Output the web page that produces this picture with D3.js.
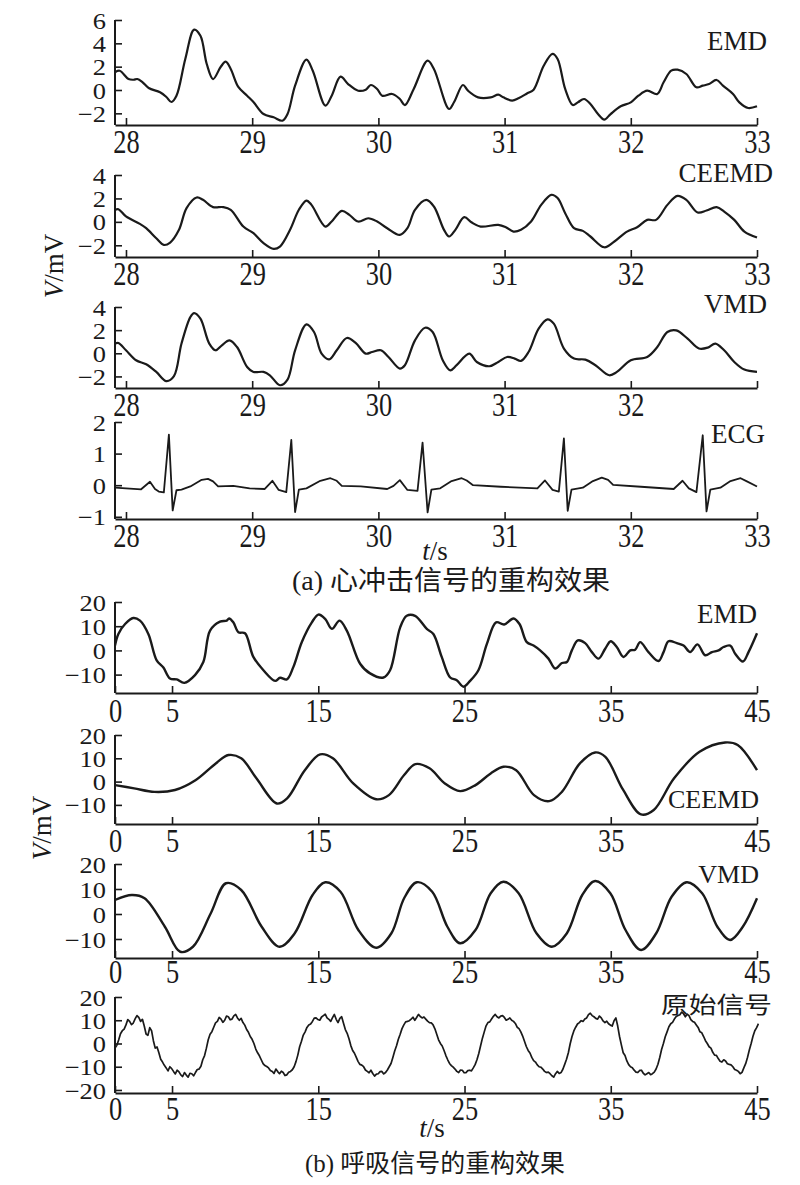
<!DOCTYPE html>
<html><head><meta charset="utf-8">
<script src="https://cdn.jsdelivr.net/npm/d3@7"></script>
<style>
body{margin:0;background:#fff}
svg{display:block}
text{font-family:"Liberation Serif","Times New Roman","Noto Sans CJK SC",serif;fill:#1a1a1a}
</style>
</head><body>
<svg id="c" width="800" height="1185"></svg>
<script>
// ---------------- DATA ----------------
// (a) heart (BCG) reconstruction, time in s, value in mV
const heartXTicks = [28, 29, 30, 31, 32, 33];
const heartXLabels = ["28", "29", "30", "31", "32", "33"];
const heartXLabelsVMD = ["28", "29", "30", "31", "32", ""];
const heartYTicksEMD = [-2, 0, 2, 4, 6];
const heartYTicksCEEMD = [-2, 0, 2, 4];
const heartYTicksVMD = [-2, 0, 2, 4];
const heartYTicksECG = [-1, 0, 1, 2];

const heartEMD = [[27.913,1.52],[27.95,1.65],[28.02,0.94],[28.06,0.88],[28.09,0.94],[28.13,0.68],[28.18,0.17],[28.27,-0.2],[28.32,-0.6],[28.36,-1.03],[28.40,-0.5],[28.47,2.66],[28.54,5.17],[28.59,4.65],[28.64,2.23],[28.69,0.94],[28.75,1.97],[28.79,2.43],[28.83,1.8],[28.89,0.26],[28.96,-0.49],[29.01,-1.03],[29.09,-2.06],[29.17,-2.34],[29.24,-2.63],[29.28,-2.06],[29.34,0.37],[29.43,2.6],[29.48,1.65],[29.58,-1.34],[29.63,-0.49],[29.70,1.14],[29.76,0.51],[29.84,-0.06],[29.90,0.03],[29.94,0.43],[29.99,0.09],[30.03,-0.49],[30.11,-0.34],[30.17,-0.77],[30.21,-1.29],[30.28,0.09],[30.39,2.51],[30.44,1.8],[30.56,-1.63],[30.60,-1.03],[30.67,0.43],[30.71,-0.06],[30.79,-0.63],[30.89,-0.63],[30.95,-0.4],[30.99,-0.63],[31.06,-0.91],[31.11,-0.71],[31.18,-0.28],[31.23,0.03],[31.31,2.08],[31.38,3.09],[31.42,2.66],[31.48,0.09],[31.54,-1.29],[31.58,-1.06],[31.63,-0.77],[31.68,-1.2],[31.74,-2.06],[31.79,-2.54],[31.84,-2.06],[31.92,-1.4],[32.00,-1.06],[32.06,-0.49],[32.13,-0.06],[32.21,-0.34],[32.26,0.66],[32.32,1.66],[32.37,1.74],[32.44,1.37],[32.52,0.23],[32.57,0.37],[32.62,0.51],[32.68,0.86],[32.73,0.37],[32.81,-0.34],[32.86,-1.06],[32.93,-1.54],[33.0,-1.4]];

const heartCEEMD = [[27.913,1.03],[27.94,1.08],[28.0,0.46],[28.11,-0.17],[28.16,-0.54],[28.24,-1.4],[28.30,-1.97],[28.35,-1.77],[28.42,-0.68],[28.48,1.17],[28.56,2.08],[28.61,1.88],[28.69,1.26],[28.77,1.26],[28.83,1.03],[28.93,-0.4],[29.01,-0.97],[29.09,-1.82],[29.17,-2.31],[29.22,-2.11],[29.30,-0.68],[29.37,1.03],[29.43,1.82],[29.47,1.45],[29.58,-0.4],[29.63,0.03],[29.71,0.94],[29.77,0.6],[29.84,0.03],[29.92,0.31],[29.99,0.03],[30.07,-0.54],[30.17,-1.11],[30.23,-0.54],[30.29,1.03],[30.38,1.88],[30.44,1.31],[30.52,-0.68],[30.56,-1.25],[30.61,-0.68],[30.68,0.4],[30.74,-0.06],[30.81,-0.4],[30.95,-0.26],[31.01,-0.46],[31.07,-0.83],[31.13,-0.68],[31.21,0.03],[31.29,1.45],[31.37,2.31],[31.42,2.03],[31.48,0.74],[31.55,-0.54],[31.62,-0.77],[31.68,-1.25],[31.79,-2.17],[31.87,-1.68],[31.97,-0.83],[32.05,-0.46],[32.13,0.17],[32.20,0.17],[32.29,1.45],[32.37,2.22],[32.44,1.88],[32.53,0.8],[32.60,0.97],[32.68,1.26],[32.74,0.88],[32.82,0.17],[32.90,-0.83],[33.0,-1.34]];

const heartVMD = [[27.913,0.84],[27.94,0.89],[28.0,0.26],[28.08,-0.6],[28.16,-0.95],[28.24,-1.61],[28.32,-2.41],[28.38,-1.98],[28.44,0.84],[28.51,3.13],[28.54,3.47],[28.59,2.99],[28.66,0.84],[28.71,0.26],[28.76,0.69],[28.82,1.12],[28.88,0.54],[28.96,-1.18],[29.01,-1.61],[29.09,-1.61],[29.14,-1.9],[29.22,-2.76],[29.28,-2.27],[29.34,0.26],[29.43,2.5],[29.49,1.84],[29.55,-0.03],[29.61,-0.52],[29.67,0.26],[29.75,1.32],[29.82,0.89],[29.90,-0.03],[29.95,0.11],[30.02,0.26],[30.08,-0.32],[30.17,-1.32],[30.21,-1.03],[30.29,1.12],[30.37,2.21],[30.43,1.84],[30.51,-0.6],[30.57,-1.47],[30.62,-1.03],[30.72,-0.03],[30.78,-0.75],[30.88,-1.12],[30.95,-0.75],[31.02,-0.32],[31.08,-0.46],[31.13,-0.66],[31.19,0.11],[31.27,2.13],[31.34,2.93],[31.39,2.56],[31.47,0.41],[31.55,-0.46],[31.64,-0.55],[31.72,-1.03],[31.83,-1.9],[31.89,-1.61],[32.0,-0.6],[32.13,-0.32],[32.21,0.54],[32.29,1.84],[32.36,1.98],[32.45,1.27],[32.54,0.41],[32.61,0.49],[32.67,0.84],[32.74,0.26],[32.82,-0.75],[32.90,-1.41],[33.0,-1.61]];

const heartECG = [[27.913,-0.08],[28.0,-0.1],[28.12,-0.13],[28.19,0.11],[28.23,-0.12],[28.26,-0.2],[28.30,-0.23],[28.34,1.6],[28.37,-0.8],[28.40,-0.16],[28.44,-0.14],[28.51,-0.04],[28.60,0.17],[28.65,0.2],[28.69,0.12],[28.73,-0.04],[28.85,-0.02],[28.98,-0.1],[29.10,-0.12],[29.16,0.14],[29.21,-0.15],[29.27,-0.22],[29.31,1.43],[29.34,-0.85],[29.37,-0.14],[29.43,-0.1],[29.54,0.14],[29.62,0.22],[29.67,0.14],[29.71,-0.02],[29.86,-0.04],[30.07,-0.12],[30.12,-0.02],[30.17,0.16],[30.23,-0.15],[30.31,-0.18],[30.35,1.35],[30.39,-0.86],[30.42,-0.14],[30.49,-0.1],[30.58,0.13],[30.66,0.22],[30.70,0.15],[30.75,0.0],[30.97,-0.05],[31.26,-0.1],[31.32,0.15],[31.38,-0.15],[31.43,-0.2],[31.47,1.48],[31.50,-0.81],[31.53,-0.14],[31.62,-0.08],[31.70,0.13],[31.77,0.24],[31.82,0.17],[31.86,0.01],[32.08,-0.05],[32.34,-0.12],[32.41,0.14],[32.46,-0.1],[32.52,-0.22],[32.57,1.58],[32.60,-0.83],[32.63,-0.14],[32.71,-0.08],[32.79,0.13],[32.87,0.22],[32.92,0.12],[33.0,-0.04]];

// (b) respiration reconstruction
const respXTicks = [1.1, 5, 15, 25, 35, 45];
const respXLabels = ["0", "5", "15", "25", "35", "45"];
const respYTicks = [-10, 0, 10, 20];
const respYTicksRaw = [-20, -10, 0, 10, 20];

const respEMD = [[1.1,2.05],[1.33,6.8],[1.79,10.9],[2.35,13.4],[2.81,12.3],[3.38,6.8],[3.95,-4.1],[4.41,-7.1],[4.86,-11.6],[5.32,-12.0],[5.84,-13.4],[6.57,-10.2],[7.14,-4.8],[7.6,8.2],[8.28,11.9],[8.74,12.3],[8.9,13.2],[9.19,11.6],[9.54,7.5],[9.99,7.1],[10.56,-2.7],[11.25,-8.2],[12.05,-12.6],[12.39,-11.3],[12.85,-12.0],[13.3,-6.8],[13.87,3.4],[14.56,11.6],[15.01,14.8],[15.47,13.0],[15.93,8.9],[16.45,12.3],[16.95,8.2],[17.86,-5.5],[18.54,-9.5],[19.46,-11.2],[19.91,-8.2],[20.6,9.5],[21.05,14.3],[21.62,14.3],[22.42,8.9],[22.87,6.8],[23.44,-2.7],[24.02,-11.2],[24.47,-12.3],[24.93,-15.0],[25.38,-12.6],[25.95,-8.2],[26.53,2.7],[27.16,11.6],[27.71,10.7],[28.35,13.2],[28.76,10.9],[29.26,3.4],[29.72,2.0],[30.17,0.0],[30.74,-3.4],[31.2,-7.5],[31.66,-5.2],[32.0,-4.8],[32.34,0.0],[32.75,4.1],[33.25,3.0],[33.71,-0.7],[34.16,-3.4],[34.62,0.7],[35.0,3.8],[35.41,1.4],[35.87,-2.7],[36.33,0.0],[36.67,0.3],[37.01,3.4],[37.58,-0.7],[38.26,-4.4],[38.61,-0.7],[38.95,3.8],[39.52,3.0],[39.98,2.0],[40.43,-0.7],[40.93,2.5],[41.46,-2.0],[41.92,-0.7],[42.37,0.0],[42.71,1.4],[43.17,2.0],[43.51,-1.4],[44.04,-4.6],[44.42,-0.7],[45.0,7.1]];

const respCEEMD = [[1.1,-1.5],[2.41,-2.9],[3.8,-4.4],[5.2,-3.6],[6.6,0.6],[7.99,7.8],[8.86,11.4],[9.73,10.0],[10.77,1.4],[12.17,-9.4],[12.87,-7.2],[14.08,4.9],[15.13,11.7],[16.0,10.0],[17.39,-0.8],[18.96,-7.6],[19.83,-5.8],[20.87,2.8],[21.64,7.5],[22.61,5.7],[23.66,-0.8],[24.7,-4.1],[25.75,-1.5],[26.79,3.5],[27.66,6.4],[28.53,4.9],[29.75,-5.8],[30.79,-8.4],[31.66,-4.4],[32.89,7.8],[33.93,12.5],[34.63,10.6],[35.85,-3.6],[37.07,-14.1],[37.94,-12.2],[39.33,1.4],[41.07,12.8],[42.82,16.8],[43.68,15.7],[45.0,4.9]];

const respVMD = [[1.1,5.6],[2.25,7.6],[3.12,6.3],[4.51,-5.1],[5.56,-15.1],[6.43,-13.1],[7.65,0.3],[8.69,12.3],[9.73,9.6],[11.13,-5.1],[12.35,-13.1],[13.39,-7.7],[14.61,7.6],[15.48,12.7],[16.52,8.9],[17.74,-6.4],[18.96,-13.5],[20.0,-7.7],[20.87,6.3],[21.74,12.7],[22.79,8.9],[23.83,-5.1],[24.7,-11.7],[25.75,-6.4],[26.79,8.3],[27.66,12.9],[28.7,8.3],[29.92,-7.7],[30.97,-13.1],[32.0,-7.7],[33.05,7.6],[33.93,13.2],[34.97,8.3],[36.01,-6.4],[37.07,-14.4],[38.11,-7.7],[39.16,6.9],[40.2,12.7],[41.25,8.3],[42.29,-5.1],[43.16,-10.4],[44.03,-5.1],[45.0,6.3]];

// raw respiration signal, sampled every 0.125 s starting at t = 1.1
const respRawStart = 1.1;
const respRawStep = 0.125;
const respRaw = [-2,-0.8,1.5,4.2,5.5,6.2,8,10.3,9.5,8.1,8.8,10.6,12,11.2,9.5,10.4,7.5,4.1,3.5,6.8,5.5,1.2,-2,-1.5,-4,-6.8,-8,-9.4,-10.5,-11.8,-10,-10.8,-12,-13.1,-11.5,-12.2,-13.5,-14.2,-12.5,-13.6,-14.5,-12.8,-13,-13.9,-12.5,-11.2,-11,-9.8,-7,-5.2,-2,1.6,4,5.1,7,8.9,9.5,11.2,10.5,9.1,10,11.8,11.5,10.2,10.5,11.9,12.5,11.0,10,10.8,9,7.9,6,4.8,3,1.8,0,-2.4,-4,-5.3,-7,-8.7,-9.5,-9.9,-10.5,-11.6,-12,-12.9,-11,-12.1,-13,-11.9,-12.5,-13.8,-13.5,-12.4,-12,-11.3,-10,-7.8,-5,-1.4,1,3.6,5,6.9,8,8.4,9.5,10.9,11,10.3,10,11.4,12,12.6,11,10.4,9.5,11.1,12.5,10.4,9,10.8,11.5,8.7,6,4.4,2,-0.9,-3,-4.2,-6,-7.8,-9,-9.3,-10,-11.4,-12,-12.6,-11.5,-12.9,-14,-13.2,-13,-12.1,-12,-13.1,-12.5,-11.4,-10,-8.6,-6,-3.2,-1,1.8,4,6.4,8,9.3,9.5,9.8,10.5,11.3,10,11.2,12.5,11.6,11,11.4,10.5,9.6,9,8.9,8,6.3,4,1.6,0,-1.1,-3,-5.2,-7,-8.6,-9.5,-10.2,-11,-12.0,-12.5,-11.4,-11.5,-12.6,-12.5,-11.7,-11.5,-11.8,-10.5,-9.1,-7,-4.3,-1,2.3,5,7.6,9,9.3,10.5,11.7,12.5,11.5,11,11.8,12,11.2,10,10.4,11,10.0,9.5,8.6,7,6.4,5,3.2,1,-1.3,-3,-4.1,-6,-7.4,-8,-9.2,-10,-10.2,-11,-12.0,-12.5,-12.3,-13,-13.9,-14.5,-13.0,-12,-12.9,-12.5,-11.1,-9,-6.8,-4,-0.1,3,5.4,7,8.4,9,9.8,9.5,10.5,11,12.4,13,12.0,11.5,10.8,10.5,11.8,11,9.7,9,9.6,8.5,7.9,7.5,9.8,11,7.5,3,-0.6,-4,-5.2,-7.5,-9.1,-10,-10.4,-11.5,-12.3,-12.5,-11.6,-11.5,-12.8,-13.5,-13.0,-12.5,-13.4,-13,-12.3,-11,-8.9,-6,-2.6,0,2.9,5,7.2,8.5,9.1,10.5,11.6,12,12.4,13.5,12.8,11.5,12.6,12,10.3,9.5,9.1,8,6.9,5,4.6,3,1.2,0,-1.4,-2,-3.8,-5,-5.1,-6.5,-7.6,-8,-7.0,-7.5,-8.7,-9,-9.2,-10,-11.2,-11.5,-12.0,-13,-12.4,-10.5,-8.7,-6,-2.8,0,3.1,5.5,6.8,8.5];

// ---------------- LAYOUT ----------------
const svg = d3.select("#c");
const INK = "#1a1a1a";
const xTop = d3.scaleLinear().domain([27.913, 33]).range([115, 757]);
const xBot = d3.scaleLinear().domain([1.1, 45]).range([115, 757]);
const respRawPts = respRaw.map((v, i) => [respRawStart + i * respRawStep, v]);

const panels = [
  {x: xTop, data: heartEMD, yd: [-3, 6], yr: [125, 20], yt: heartYTicksEMD, xt: heartXTicks, xl: heartXLabels, label: "EMD", lx: 767, ly: 50, fs: 27, curve: true, w: 2.2, xo: 28},
  {x: xTop, data: heartCEEMD, yd: [-3, 4], yr: [257, 175], yt: heartYTicksCEEMD, xt: heartXTicks, xl: heartXLabels, label: "CEEMD", lx: 773, ly: 182, fs: 27, curve: true, w: 2.2, xo: 28},
  {x: xTop, data: heartVMD, yd: [-3, 4], yr: [388, 307], yt: heartYTicksVMD, xt: heartXTicks, xl: heartXLabelsVMD, label: "VMD", lx: 767, ly: 313, fs: 27, curve: true, w: 2.2, xo: 28},
  {x: xTop, data: heartECG, yd: [-1.07, 2], yr: [519, 422], yt: heartYTicksECG, xt: heartXTicks, xl: heartXLabels, label: "ECG", lx: 765, ly: 443, fs: 27, curve: false, w: 1.8, xo: 28},
  {x: xBot, data: respEMD, yd: [-17.6, 20], yr: [693, 602], yt: respYTicks, xt: respXTicks, xl: respXLabels, label: "EMD", lx: 757, ly: 623, fs: 27, curve: true, w: 2.4, xo: 29},
  {x: xBot, data: respCEEMD, yd: [-18.2, 20], yr: [824, 735], yt: respYTicks, xt: respXTicks, xl: respXLabels, label: "CEEMD", lx: 759, ly: 808, fs: 26, curve: true, w: 2.4, xo: 28},
  {x: xBot, data: respVMD, yd: [-17.6, 20], yr: [958, 864], yt: respYTicks, xt: respXTicks, xl: respXLabels, label: "VMD", lx: 759, ly: 883, fs: 26, curve: true, w: 2.4, xo: 25},
  {x: xBot, data: respRawPts, yd: [-21.3, 20], yr: [1093, 997], yt: respYTicksRaw, xt: respXTicks, xl: respXLabels, label: "原始信号", lx: 772, ly: 1013, fs: 23, curve: false, w: 1.7, tl: 111, xo: 27}
];

const fmtNum = d => (d < 0 ? "\u2212" + Math.abs(d) : String(d));

panels.forEach((p, i) => {
  const y = d3.scaleLinear().domain(p.yd).range(p.yr);
  const g = svg.append("g");
  const clipId = "clip" + i;
  svg.append("clipPath").attr("id", clipId).append("rect")
    .attr("x", 115).attr("y", p.yr[1] - 6).attr("width", 644).attr("height", p.yr[0] - p.yr[1] + 6);

  // line
  const line = d3.line().x(d => p.x(d[0])).y(d => y(d[1]))
    .curve(p.curve ? d3.curveCatmullRom.alpha(0.5) : d3.curveLinear);
  g.append("path").datum(p.data).attr("d", line)
    .attr("fill", "none").attr("stroke", INK).attr("stroke-width", p.w)
    .attr("stroke-linejoin", "round").attr("clip-path", `url(#${clipId})`);

  // x axis
  const xa = d3.axisBottom(p.x).tickValues(p.xt).tickSize(-7).tickSizeOuter(0)
    .tickFormat((d, k) => p.xl[k]);
  const gx = g.append("g").attr("transform", `translate(0,${p.yr[0]})`).call(xa)
    .attr("font-size", null).attr("font-family", null);
  gx.select(".domain").attr("stroke", INK).attr("stroke-width", 2);
  gx.selectAll(".tick line").attr("stroke", INK).attr("stroke-width", 1.6);
  gx.selectAll(".tick text").attr("y", null).attr("dy", null)
    .attr("transform", `translate(0,${p.xo}) scale(0.8,1)`)
    .attr("font-size", 33).attr("fill", INK);

  // y axis
  const ya = d3.axisLeft(y).tickValues(p.yt).tickSize(-7).tickSizeOuter(0).tickFormat(fmtNum);
  const gy = g.append("g").attr("transform", "translate(115,0)").call(ya)
    .attr("font-size", null).attr("font-family", null);
  gy.select(".domain").attr("stroke", INK).attr("stroke-width", 2)
    .attr("d", `M0,${p.yr[0]}V${y(p.yt[p.yt.length - 1])}`);
  gy.selectAll(".tick line").attr("stroke", INK).attr("stroke-width", 1.6);
  gy.selectAll(".tick text").attr("x", null).attr("dy", "0.35em")
    .attr("transform", "translate(-9,0) scale(1.15,1)")
    .attr("font-size", 23).attr("fill", INK).attr("text-anchor", "end");

  // series label
  const t = svg.append("text").attr("x", p.lx).attr("y", p.ly)
    .attr("text-anchor", "end").attr("font-size", p.fs).text(p.label);
  if (p.tl) t.attr("text-anchor", "start").attr("x", p.lx - p.tl)
    .attr("textLength", p.tl).attr("lengthAdjust", "spacingAndGlyphs")
    .style("font-family", "'Noto Sans CJK SC', sans-serif");
});

// axis titles
function vTitle(cx, cy) {
  const t = svg.append("text").attr("transform", `translate(${cx},${cy}) rotate(-90)`)
    .attr("text-anchor", "middle").attr("font-size", 27);
  t.append("tspan").attr("font-style", "italic").text("V");
  t.append("tspan").text("/mV");
}
vTitle(63, 266);
vTitle(51, 828);

function tTitle(cx, by) {
  const t = svg.append("text").attr("x", cx).attr("y", by)
    .attr("text-anchor", "middle").attr("font-size", 27);
  t.append("tspan").attr("font-style", "italic").text("t");
  t.append("tspan").text("/s");
}
tTitle(435, 560);
tTitle(432, 1137);

// captions
svg.append("text").attr("x", 292).attr("y", 590).attr("font-size", 27)
  .attr("textLength", 318).attr("lengthAdjust", "spacingAndGlyphs")
  .text("(a) 心冲击信号的重构效果");
svg.append("text").attr("x", 305).attr("y", 1172).attr("font-size", 25)
  .attr("textLength", 260).attr("lengthAdjust", "spacingAndGlyphs")
  .text("(b) 呼吸信号的重构效果");
</script>
</body></html>
